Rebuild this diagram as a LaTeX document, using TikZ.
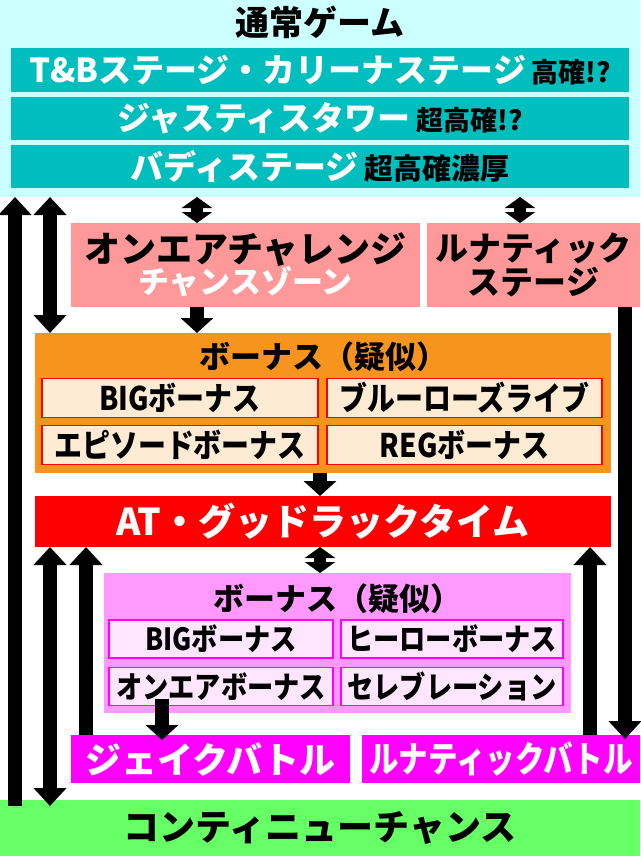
\documentclass[tikz,border=0pt]{standalone}
\usepackage{fontspec}
\setmainfont{Noto Sans CJK JP}
\newfontfamily\jpnarrow{Noto Sans CJK JP}[FakeStretch=0.86]
\usetikzlibrary{arrows.meta}
\definecolor{cyanbg}{RGB}{204,255,255}
\definecolor{tealbox}{RGB}{0,190,190}
\definecolor{salmon}{RGB}{255,153,153}
\definecolor{orangebg}{RGB}{247,148,30}
\definecolor{beige}{RGB}{253,235,212}
\definecolor{pinkbg}{RGB}{255,153,255}
\definecolor{pinklight}{RGB}{255,230,255}
\definecolor{magentabox}{RGB}{255,0,255}
\definecolor{greenbg}{RGB}{102,255,102}
\newcommand\jpsize[1]{\fontsize{#1}{#1}\selectfont\bfseries}
\begin{document}
\begin{tikzpicture}[x=1pt,y=-1pt,
  box/.style={inner sep=0pt, outer sep=0pt, align=center},
  subA/.style={box, fill=beige, draw=red, line width=1.2pt, minimum height=39pt, font=\jpnarrow\jpsize{32.5}},
  subB/.style={box, fill=pinklight, draw=magentabox, line width=1.2pt, minimum height=38pt, font=\jpnarrow\jpsize{30.5}},
  longarrow/.style={line width=14pt, -{Triangle[width=32pt,length=18pt]}},
  dbllong/.style={line width=14pt, {Triangle[width=32pt,length=18pt]}-{Triangle[width=32pt,length=18pt]}},
  dblshort/.style={line width=12pt, {Triangle[width=30pt,length=11pt]}-{Triangle[width=30pt,length=11pt]}},
  shortarrow/.style={line width=14pt, -{Triangle[width=32pt,length=15pt]}}]
\useasboundingbox (0,0) rectangle (640,856);
% 通常ゲーム
\node[box, fill=cyanbg, minimum width=640pt, minimum height=197pt] (normal) at (320,98.5) {};
\node[box, font=\jpsize{34}] (normaltitle) at (320,22) {通常ゲーム};
\node[box, fill=tealbox, minimum width=618pt, minimum height=44pt, text=white, font=\jpsize{33}] (stage1) at (320,70)
  {T\&Bステージ・カリーナステージ\,\textcolor{black}{\jpsize{27}高確!?}};
\node[box, fill=tealbox, minimum width=618pt, minimum height=43pt, text=white, font=\jpsize{33}] (stage2) at (320,118.5)
  {ジャスティスタワー\,\textcolor{black}{\jpsize{27}超高確!?}};
\node[box, fill=tealbox, minimum width=618pt, minimum height=43pt, text=white, font=\jpsize{33}] (stage3) at (320,166.5)
  {バディステージ\,\textcolor{black}{\jpsize{29}超高確濃厚}};
% CZ
\node[box, fill=salmon, minimum width=349pt, minimum height=84pt] (onair) at (245.5,265)
  {{\jpsize{36}オンエアチャレンジ}\\[-1pt]{\jpsize{31}\color{white}チャンスゾーン}};
\node[box, fill=salmon, minimum width=213pt, minimum height=84pt, font=\jpsize{33}] (lstage) at (533.5,265)
  {ルナティック\\[1pt]ステージ};
% ボーナス(疑似) 1
\node[box, fill=orangebg, minimum width=576pt, minimum height=140pt] (bonusA) at (323,403) {};
\node[box, font=\jpsize{31}] (bonusAtitle) at (323,357) {ボーナス（疑似）};
\node[subA, minimum width=276pt] (bigA) at (180,398) {BIGボーナス};
\node[subA, minimum width=275pt] (blue) at (464.5,398) {ブルーローズライブ};
\node[subA, minimum width=276pt] (episode) at (180,445) {エピソードボーナス};
\node[subA, minimum width=275pt] (reg) at (464.5,445) {REGボーナス};
% AT
\node[box, fill=red, minimum width=576pt, minimum height=51pt, text=white, font=\jpsize{37}] (at) at (323,521.5)
  {AT・グッドラックタイム};
% ボーナス(疑似) 2
\node[box, fill=pinkbg, minimum width=467pt, minimum height=140pt] (bonusB) at (337.5,643) {};
\node[box, font=\jpsize{31}] (bonusBtitle) at (337.5,599) {ボーナス（疑似）};
\node[subB, minimum width=224pt] (bigB) at (221,639) {BIGボーナス};
\node[subB, minimum width=222pt] (hero) at (452,639) {ヒーローボーナス};
\node[subB, minimum width=224pt] (onairbonus) at (221,686.5) {オンエアボーナス};
\node[subB, minimum width=222pt] (celeb) at (452,686.5) {セレブレーション};
% バトル
\node[box, fill=magentabox, minimum width=279pt, minimum height=48pt, text=white, font=\jpsize{36}] (jake) at (210.5,759)
  {ジェイクバトル};
\node[box, fill=magentabox, minimum width=278pt, minimum height=48pt, text=white, font=\jpsize{36}] (lbattle) at (501,759)
  {\scalebox{0.82}[1]{ルナティックバトル}};
% コンティニューチャンス
\node[box, fill=greenbg, minimum width=640pt, minimum height=56pt, font=\jpsize{36}] (cont) at (320,828)
  {コンティニューチャンス};
% arrows
\draw[longarrow] ([yshift=-6pt]cont.north -| 15,0) -- (normal.south -| 15,0);
\draw[dbllong] (normal.south -| 50,0) -- (bonusA.north -| 50,0);
\draw[dbllong] (at.south -| 50,0) -- ([yshift=-6pt]cont.north -| 50,0);
\draw[dblshort] (normal.south -| 197,0) -- (onair.north -| 197,0);
\draw[dblshort] (normal.south -| 520,0) -- (lstage.north -| 520,0);
\draw[shortarrow] (onair.south -| 197,0) -- (bonusA.north -| 197,0);
\draw[shortarrow] (bonusA.south -| 320,0) -- (at.north -| 320,0);
\draw[dblshort] (at.south -| 320,0) -- (bonusB.north -| 320,0);
\draw[longarrow] (jake.north -| 86,0) -- (at.south -| 86,0);
\draw[longarrow] (lbattle.north -| 590,0) -- (at.south -| 590,0);
\draw[longarrow] (lstage.south -| 625,0) -- ([yshift=-4pt]lbattle.north -| 625,0);
\draw[shortarrow] ([yshift=7pt]onairbonus.south -| 162,0) -- ([yshift=-5pt]jake.north -| 162,0);
\end{tikzpicture}
\end{document}
